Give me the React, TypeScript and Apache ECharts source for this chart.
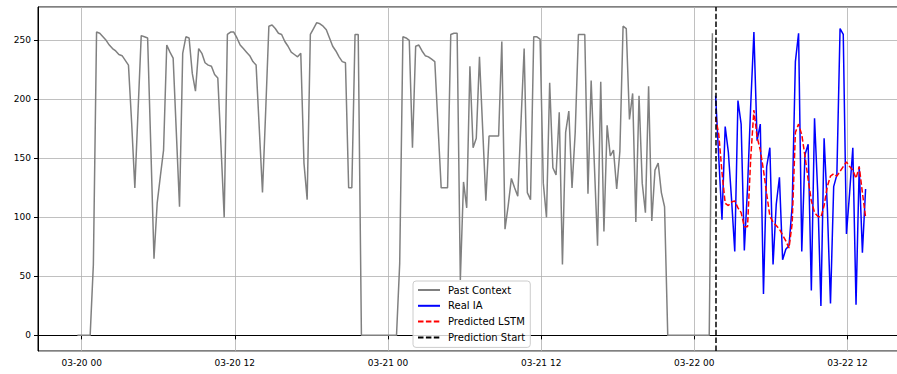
import React, { useEffect, useRef } from 'react';
import * as echarts from 'echarts';

// First timestamp of the past context window and sampling step
const START = { year: 2025, month: 3, day: 19, hour: 23, minute: 40 };
const STEP_MINUTES = 15;

const SERIES_NAMES = ['Past Context', 'Real IA', 'Predicted LSTM', 'Prediction Start'];

// Past context (200 samples)
const pastContext = [
  0, 0, 0, 0, 0, 60, 257, 256, 253, 250,
  246, 243, 241, 238, 237, 233, 229, 180, 125, 190,
  254, 253, 252, 160, 65, 112, 135, 157, 246, 240,
  235, 172, 109, 239, 253, 252, 222, 207, 243, 239,
  231, 229, 228, 221, 218, 160, 100, 255, 257, 257,
  252, 246, 243, 240, 237, 232, 229, 175, 121, 190,
  262, 263, 260, 256, 255, 249, 245, 240, 238, 236,
  239, 146, 115, 255, 260, 265, 264, 262, 259, 252,
  245, 241, 236, 232, 231, 125, 125, 255, 255, 0,
  0, 0, 0, 0, 0, 0, 0, 0, 0, 0,
  0, 61, 253, 252, 250, 159, 245, 246, 241, 237,
  236, 234, 232, 178, 125, 125, 125, 255, 256, 256,
  47, 130, 108, 228, 159, 167, 236, 175, 114, 169,
  169, 169, 169, 249, 90, 110, 133, 125, 118, 180,
  243, 121, 115, 253, 253, 251, 129, 100, 214, 142,
  136, 189, 60, 172, 190, 125, 172, 255, 255, 255,
  120, 216, 145, 76, 215, 88, 178, 152, 157, 124,
  156, 262, 260, 183, 205, 96, 203, 129, 104, 211,
  97, 140, 146, 121, 109, 0, 0, 0, 0, 0,
  0, 0, 0, 0, 0, 0, 0, 0, 0, 256,
];

// Real IA over the prediction horizon (48 samples)
const realIA = [
  203, 150, 98, 177, 155, 115, 71, 199, 179, 72,
  125, 195, 257, 165, 179, 35, 143, 159, 60, 111,
  134, 64, 73, 76, 110, 232, 256, 71, 153, 162,
  38, 184, 121, 25, 167, 109, 27, 126, 136, 260,
  255, 86, 121, 159, 26, 143, 70, 124,
];

// LSTM prediction over the same horizon (48 samples)
const predictedLSTM = [
  185, 170, 138, 112, 110, 113, 114, 108, 104, 92,
  92, 150, 191, 168, 157, 140, 120, 101, 96, 93,
  90, 85, 80, 74, 95, 172, 179, 170, 152, 132,
  114, 104, 101, 100, 110, 126, 135, 137, 135, 139,
  143, 147, 143, 140, 133, 143, 121, 100,
];

const pad = (n: number) => (n < 10 ? '0' + n : '' + n);

export default function App() {
  const ref = useRef<HTMLDivElement>(null);

  useEffect(() => {
    if (!ref.current) return;
    const chart = echarts.init(ref.current, null, { renderer: 'svg' });

    const t0 = new Date(START.year, START.month - 1, START.day, START.hour, START.minute).getTime();
    const step = STEP_MINUTES * 60 * 1000;
    const timeAt = (i: number) => t0 + i * step;
    const nPast = pastContext.length;

    const pastData = pastContext.map((v, i) => [timeAt(i), v]);
    const realData = realIA.map((v, j) => [timeAt(nPast + j), v]);
    const predData = predictedLSTM.map((v, j) => [timeAt(nPast + j), v]);
    const predStart = timeAt(nPast);

    // matplotlib-like 5% margins
    const xFirst = timeAt(0);
    const xLast = timeAt(nPast + realIA.length - 1);
    const xSpan = xLast - xFirst;
    const allY = [...pastContext, ...realIA, ...predictedLSTM];
    const yLo = Math.min(...allY);
    const yHi = Math.max(...allY);
    const ySpan = yHi - yLo;

    const font = 'DejaVu Sans';
    const H = 3600 * 1000;

    chart.setOption({
      animation: false,
      backgroundColor: '#ffffff',
      grid: {
        left: 38,
        right: 1,
        top: 7,
        bottom: 23,
        show: true,
        borderColor: '#000',
        borderWidth: 1,
      },
      xAxis: {
        type: 'time',
        min: xFirst - 0.05 * xSpan,
        max: xLast + 0.05 * xSpan,
        minInterval: 13 * H,
        maxInterval: 13 * H,
        axisLine: { show: true, lineStyle: { color: '#000', width: 1 } },
        axisTick: { show: true, length: 4, lineStyle: { color: '#000' } },
        axisLabel: {
          color: '#000',
          fontFamily: font,
          fontSize: 9,
          margin: 7,
          showMinLabel: false,
          showMaxLabel: false,
          hideOverlap: false,
          formatter: (v: number) => {
            const d = new Date(v);
            if (d.getMinutes() !== 0 || d.getHours() % 12 !== 0) return '';
            return `${pad(d.getMonth() + 1)}-${pad(d.getDate())} ${pad(d.getHours())}`;
          },
        },
        splitLine: { show: true, lineStyle: { color: '#b0b0b0', width: 0.8 } },
      },
      yAxis: {
        type: 'value',
        min: yLo - 0.05 * ySpan,
        max: yHi + 0.05 * ySpan,
        splitNumber: 5,
        axisLine: { show: true, lineStyle: { color: '#000', width: 1 } },
        axisTick: { show: true, length: 4, lineStyle: { color: '#000' } },
        axisLabel: {
          color: '#000',
          fontFamily: font,
          fontSize: 9,
          margin: 7,
          showMinLabel: false,
          showMaxLabel: false,
          formatter: (v: number) => (Math.abs(v % 50) < 1e-6 ? String(v) : ''),
        },
        splitLine: { show: true, lineStyle: { color: '#b0b0b0', width: 0.8 } },
      },
      legend: {
        data: SERIES_NAMES,
        orient: 'vertical',
        left: 413,
        top: 281,
        itemWidth: 22,
        itemHeight: 10,
        itemGap: 5.8,
        padding: [4, 5, 5, 4],
        backgroundColor: 'rgba(255,255,255,0.8)',
        borderColor: '#cccccc',
        borderWidth: 1,
        borderRadius: 3,
        itemStyle: { opacity: 0 },
        textStyle: { fontFamily: font, fontSize: 10, color: '#000', padding: [0, 0, 0, 3] },
      },
      series: [
        {
          name: SERIES_NAMES[0],
          type: 'line',
          data: pastData,
          symbol: 'none',
          showSymbol: false,
          color: '#808080',
          lineStyle: { color: '#808080', width: 1.5 },
        },
        {
          name: SERIES_NAMES[1],
          type: 'line',
          data: realData,
          symbol: 'none',
          showSymbol: false,
          color: '#0000ff',
          lineStyle: { color: '#0000ff', width: 1.5 },
        },
        {
          name: SERIES_NAMES[2],
          type: 'line',
          data: predData,
          symbol: 'none',
          showSymbol: false,
          color: '#ff0000',
          lineStyle: { color: '#ff0000', width: 1.5, type: [5.5, 2.4] },
        },
        {
          name: SERIES_NAMES[3],
          type: 'line',
          data: [],
          symbol: 'none',
          showSymbol: false,
          color: '#000000',
          lineStyle: { color: '#000000', width: 1.5, type: [5.5, 2.4] },
          markLine: {
            silent: true,
            symbol: ['none', 'none'],
            label: { show: false },
            lineStyle: { color: '#000000', width: 1.5, type: [5.5, 2.4] },
            data: [{ xAxis: predStart }],
          },
        },
      ],
    });

    return () => chart.dispose();
  }, []);

  return (
    <div
      style={{ position: 'absolute', left: 0, top: 0, width: 897, height: 374, overflow: 'hidden' }}
    >
      <div ref={ref} style={{ width: 906, height: 374 }} />
    </div>
  );
}
